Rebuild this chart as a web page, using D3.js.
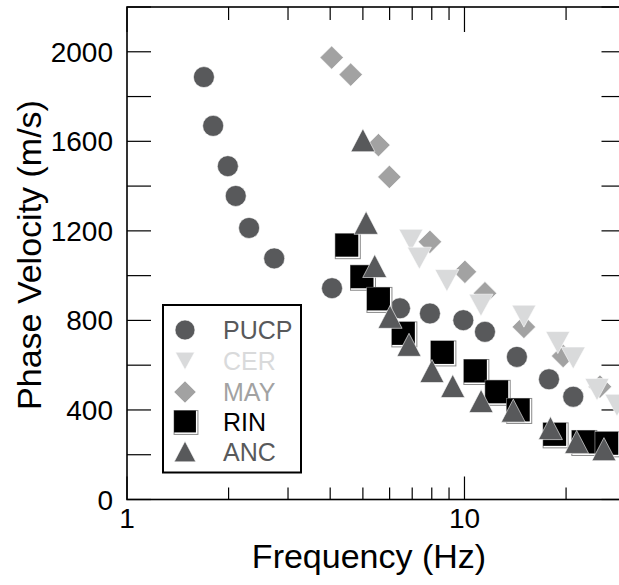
<!DOCTYPE html>
<html>
<head>
<meta charset="utf-8">
<script src="https://cdn.jsdelivr.net/npm/d3@7"></script>
<style>
  html, body { margin: 0; padding: 0; background: #fff; }
  svg { display: block; font-family: "Liberation Sans", Arial, Helvetica, sans-serif; }
</style>
</head>
<body>
<svg id="chart" width="619" height="585"></svg>
<script>
// ---- data ----
const seriesNames = ["PUCP", "CER", "MAY", "RIN", "ANC"];
const freqPUCP = [1.69, 1.80, 1.99, 2.10, 2.30, 2.73, 4.05, 6.44, 7.90, 9.92, 11.5, 14.3, 17.8, 21.0];
const velPUCP  = [1887, 1669, 1489, 1356, 1213, 1077, 944, 854, 831, 801, 749, 637, 537, 459];
const freqCER  = [6.94, 7.35, 8.87, 11.19, 15.0, 18.9, 21.0, 24.7, 28.3];
const velCER   = [1158, 1078, 978, 868, 819, 701, 632, 491, 421];
const freqMAY  = [4.04, 4.60, 5.56, 5.99, 7.9, 10.03, 11.5, 15.0, 19.6, 25.2];
const velMAY   = [1974, 1898, 1583, 1441, 1151, 1017, 921, 771, 641, 504];
const freqRIN  = [4.48, 4.97, 5.56, 6.59, 8.6, 10.77, 12.46, 14.43, 18.5, 22.5, 26.4];
const velRIN   = [1136, 995, 896, 742, 657, 574, 481, 400, 291, 257, 251];
const freqANC  = [5.0, 5.11, 5.42, 6.02, 6.85, 8.01, 9.23, 11.2, 13.95, 17.98, 21.5, 25.9];
const velANC   = [1605, 1236, 1043, 816, 691, 574, 507, 440, 397, 319, 257, 225];
const yTickValues = [0, 400, 800, 1200, 1600, 2000];
const yMinorValues = [200, 600, 1000, 1400, 1800, 2200];
const xTickLabels = ["1", "10"];
const xMajorValues = [1, 10];
const xMinorValues = [2, 3, 4, 5, 6, 7, 8, 9, 20, 30];

const colors = { PUCP: "#58595b", CER: "#d9dadb", MAY: "#a2a2a2", RIN: "#000000", ANC: "#58595b" };

// ---- layout ----
const svg = d3.select("#chart");
const mLeft = 127, mRight = 625.5, mTop = 7, mBottom = 499.5;
const x = d3.scaleLog().domain([1, 30]).range([mLeft, mRight]);
const y = d3.scaleLinear().domain([0, 2200]).range([mBottom, mTop]);

// ---- symbols ----
function drawSymbol(g, type, cx, cy, scale = 1) {
  const c = colors[type];
  if (type === "PUCP") {
    g.append("circle").attr("cx", cx).attr("cy", cy).attr("r", 10.5 * scale)
      .attr("fill", c).attr("stroke", "#fff").attr("stroke-width", 0.6);
  } else if (type === "CER") {
    const w = 12 * scale, h = 11 * scale;
    g.append("path").attr("d", `M${cx - w},${cy - h}L${cx + w},${cy - h}L${cx},${cy + h}Z`)
      .attr("fill", c).attr("stroke", "#fff").attr("stroke-width", 0.6);
  } else if (type === "MAY") {
    const r = 11.7 * scale;
    g.append("path").attr("d", `M${cx},${cy - r}L${cx + r},${cy}L${cx},${cy + r}L${cx - r},${cy}Z`)
      .attr("fill", c).attr("stroke", "#fff").attr("stroke-width", 0.6);
  } else if (type === "RIN") {
    const s = 23 * scale;
    g.append("rect").attr("x", cx - s / 2).attr("y", cy - s / 2).attr("width", s + 2).attr("height", s + 2)
      .attr("fill", "#fff").attr("stroke", "#8a8a8a").attr("stroke-width", 1);
    g.append("rect").attr("x", cx - s / 2).attr("y", cy - s / 2).attr("width", s).attr("height", s)
      .attr("fill", c);
  } else if (type === "ANC") {
    const w = 12 * scale, h = 11.5 * scale;
    g.append("path").attr("d", `M${cx},${cy - h}L${cx + w},${cy + h}L${cx - w},${cy + h}Z`)
      .attr("fill", c).attr("stroke", "#fff").attr("stroke-width", 0.6);
  }
}

// ---- axes ----
const axisG = svg.append("g");
axisG.append("rect").attr("x", mLeft).attr("y", mTop).attr("width", mRight - mLeft).attr("height", mBottom - mTop)
  .attr("fill", "none").attr("stroke", "#000").attr("stroke-width", 1.6);

const tickG = axisG.append("g").attr("stroke", "#000").attr("stroke-width", 1.2);
[...yTickValues, ...yMinorValues].forEach(v => {
  tickG.append("line").attr("x1", mLeft).attr("x2", mLeft + 24).attr("y1", y(v)).attr("y2", y(v));
  tickG.append("line").attr("x1", mRight).attr("x2", mRight - 24).attr("y1", y(v)).attr("y2", y(v));
});
xMajorValues.forEach(v => {
  tickG.append("line").attr("x1", x(v)).attr("x2", x(v)).attr("y1", mBottom).attr("y2", mBottom - 23);
  tickG.append("line").attr("x1", x(v)).attr("x2", x(v)).attr("y1", mTop).attr("y2", mTop + 25);
});
xMinorValues.forEach(v => {
  tickG.append("line").attr("x1", x(v)).attr("x2", x(v)).attr("y1", mBottom).attr("y2", mBottom - 12);
  tickG.append("line").attr("x1", x(v)).attr("x2", x(v)).attr("y1", mTop).attr("y2", mTop + 13);
});

// tick labels
yTickValues.forEach(v => {
  axisG.append("text").attr("x", 113).attr("y", y(v) + 10).attr("text-anchor", "end")
    .attr("font-size", 28).attr("fill", "#000").text(v);
});
xMajorValues.forEach((v, i) => {
  axisG.append("text").attr("x", x(v)).attr("y", 527.5).attr("text-anchor", "middle")
    .attr("font-size", 28).attr("fill", "#000").text(xTickLabels[i]);
});

// titles
svg.append("text").attr("x", 369).attr("y", 568).attr("text-anchor", "middle")
  .attr("font-size", 34).attr("fill", "#000").text("Frequency (Hz)");
svg.append("text").attr("transform", "translate(41,255) rotate(-90)").attr("text-anchor", "middle")
  .attr("font-size", 34).attr("fill", "#000").text("Phase Velocity (m/s)");

// ---- data marks ----
const dataG = svg.append("g");
const data = {
  PUCP: d3.zip(freqPUCP, velPUCP),
  CER: d3.zip(freqCER, velCER),
  MAY: d3.zip(freqMAY, velMAY),
  RIN: d3.zip(freqRIN, velRIN),
  ANC: d3.zip(freqANC, velANC)
};
["PUCP", "MAY", "CER", "RIN", "ANC"].forEach(name => {
  const g = dataG.append("g");
  data[name].forEach(([f, v]) => drawSymbol(g, name, x(f), y(v)));
});

// ---- legend ----
const legG = svg.append("g");
legG.append("rect").attr("x", 163).attr("y", 305).attr("width", 138).attr("height", 167.5)
  .attr("fill", "#fff").attr("stroke", "#000").attr("stroke-width", 2);
const legRows = [330, 361, 392, 421.5, 451.5];
seriesNames.forEach((name, i) => {
  const sc = name === "CER" ? 0.8 : (name === "ANC" ? 0.9 : 0.95);
  drawSymbol(legG, name, 185, legRows[i], sc);
  legG.append("text").attr("x", 223).attr("y", legRows[i] + 9).attr("font-size", 25)
    .attr("fill", colors[name]).text(name);
});
</script>
</body>
</html>
